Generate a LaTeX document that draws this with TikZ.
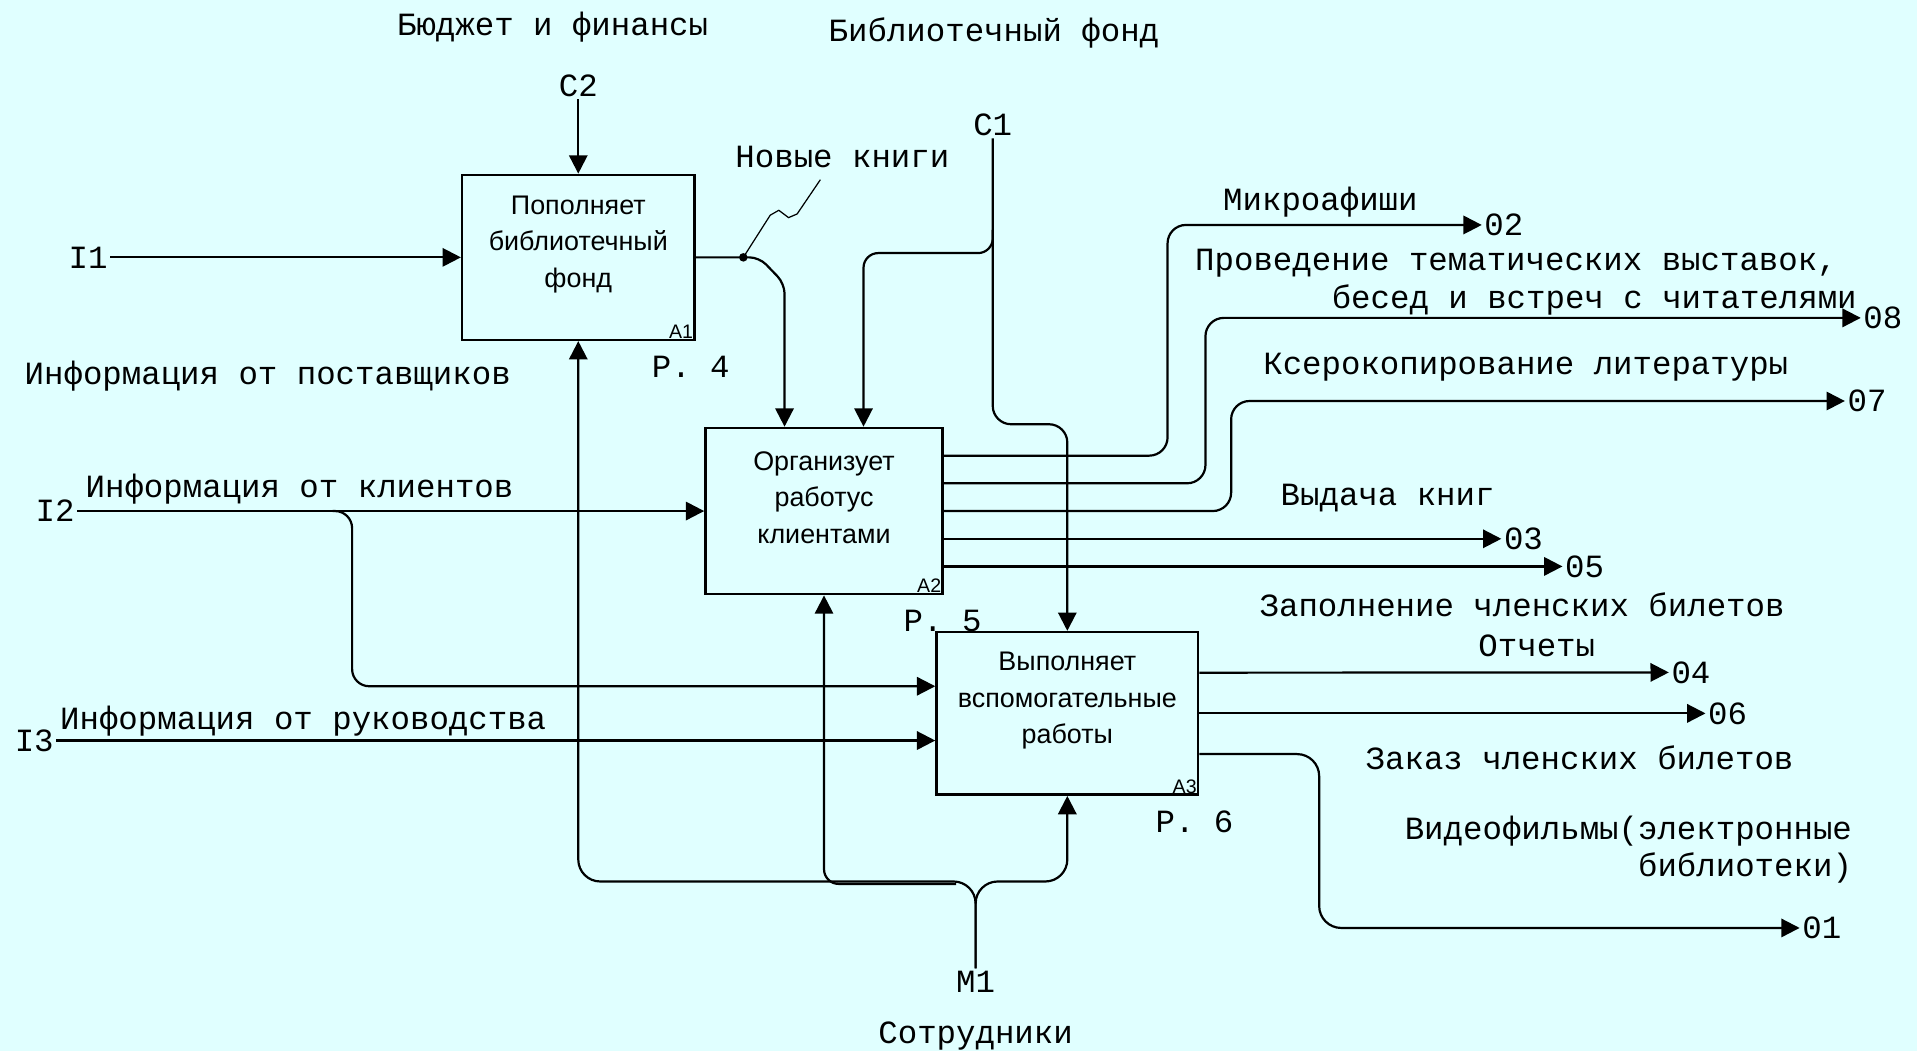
\documentclass[tikz,border=0pt]{standalone}
\usepackage{fontspec}
\setmainfont{Liberation Sans}
\newfontfamily\idefmono{Liberation Mono}
\usepackage{tikz}
\usetikzlibrary{arrows, arrows.meta, positioning}
\definecolor{bgcyan}{RGB}{224,255,255}

\begin{document}
\begin{tikzpicture}[x=1pt, y=-1pt,
    func/.style={shape=rectangle, draw=black, line width=2pt, inner sep=0pt},
    functext/.style={align=center, font=\fontsize{22}{30}\selectfont},
    corner/.style={anchor=south east, inner sep=2pt, font=\fontsize{16}{16}\selectfont},
    lbl/.style={inner sep=2pt, font=\idefmono\fontsize{26.5}{30}\selectfont},
    arr/.style={line width=1.8pt, -{Triangle[length=15pt,width=15pt]}}]
  \fill[bgcyan] (0,0) rectangle (1568,860);
  \useasboundingbox (0,0) rectangle (1568,860);

  \node[func, minimum width=190pt, minimum height=135pt, label={[corner]south east:A1}] (A1) at (473,210.5) {};
  \node[functext] (A1text) at (473,200) {Пополняет\\библиотечный\\фонд};
  \node[func, minimum width=194pt, minimum height=136pt, label={[corner]south east:A2}] (A2) at (674,418) {};
  \node[functext] (A2text) at (674,407) {Организует\\работус\\клиентами};
  \node[func, minimum width=214pt, minimum height=133pt, label={[corner]south east:A3}] (A3) at (873,583.5) {};
  \node[functext] (A3text) at (873,573) {Выполняет\\вспомогательные\\работы};

  \node[lbl] (bud) at (452,22) {Бюджет и финансы};
  \node[lbl] (fond) at (813,27) {Библиотечный фонд};
  \node[lbl] (C2) at (473,70) {C2};
  \node[lbl] (C1) at (812,102) {C1};
  \node[lbl] (NK) at (689,128) {Новые книги};
  \node[lbl] (I1) at (72,210.5) {I1};
  \node[lbl] (post) at (219,308) {Информация от поставщиков};
  \node[lbl] (P4) at (565,300) {P. 4};
  \node[lbl] (I2) at (45,418) {I2};
  \node[lbl] (clients) at (245,400) {Информация от клиентов};
  \node[lbl] (P5) at (771,508) {P. 5};
  \node[lbl] (I3) at (28,605.7) {I3};
  \node[lbl] (mgmt) at (248,590) {Информация от руководства};
  \node[lbl] (P6) at (977,672) {P. 6};
  \node[lbl] (M1) at (798,803) {M1};
  \node[lbl] (staff) at (798,847) {Сотрудники};

  \node[lbl] (micro) at (1080,165) {Микроафиши};
  \node[lbl] (exhA) at (1240,215) {Проведение тематических выставок,};
  \node[lbl] (exhB) at (1304,245) {бесед и встреч с читателями};
  \node[lbl] (xero) at (1248,300) {Ксерокопирование литературы};
  \node[lbl] (issue) at (1135,407) {Выдача книг};
  \node[lbl] (fill) at (1245,495) {Заполнение членских билетов};
  \node[lbl] (rep) at (1257,528) {Отчеты};
  \node[lbl] (order) at (1292,620) {Заказ членских билетов};
  \node[lbl, align=right, anchor=east] (video) at (1517,695) {Видеофильмы(электронные\\библиотеки)};

  \node[lbl, anchor=west] (O2) at (1212,184) {02};
  \node[lbl, anchor=west] (O8) at (1522,260) {08};
  \node[lbl, anchor=west] (O7) at (1509,328) {07};
  \node[lbl, anchor=west] (O3) at (1228,440.7) {03};
  \node[lbl, anchor=west] (O5) at (1278,463.3) {05};
  \node[lbl, anchor=west] (O4) at (1365,550) {04};
  \node[lbl, anchor=west] (O6) at (1395,583.5) {06};
  \node[lbl, anchor=west] (O1) at (1472,759) {01};

  \coordinate (NKdot) at (608,210.5);
  \coordinate (NKend) at (671,147);
  \coordinate (C1s) at (812,188);
  \coordinate (I2s) at (272,418);
  \coordinate (M1s) at (798,721);
  \coordinate (M1a) at (782,723);

  \draw[arr] (C2) -- (A1.north);
  \draw[arr] (I1) -- (A1.west);
  \draw[arr] (I2) -- (A2.west);
  \draw[arr] (I3) -- ([yshift=-22.2pt]A3.west);
  \draw[arr, rounded corners=14pt] (I2s) -- (288,418) |- ([yshift=22.2pt]A3.west);

  \draw[arr, rounded corners=8pt] (A1.east) -- (621,210.5) -- (641.7,232) -- ([xshift=-32.3pt]A2.north);
  \fill (NKdot) circle (3.5pt);
  \draw[line width=1pt] (NKdot) -- (630,176) -- (637,172) -- (645,178) -- (652,175) -- (NKend);

  \draw[arr, rounded corners=15pt] (C1) -- (812,347) -| (A3.north);
  \draw[arr, rounded corners=12pt] (C1s) -- (812,207) -| ([xshift=32.3pt]A2.north);

  \draw[arr, rounded corners=15pt] ([yshift=45.3pt]A2.east) -| (955,220) |- (O2.west);
  \draw[arr, rounded corners=15pt] ([yshift=22.7pt]A2.east) -| (986,300) |- (O8.west);
  \draw[arr, rounded corners=15pt] (A2.east) -| (1007,380) |- (O7.west);
  \draw[arr] ([yshift=-22.7pt]A2.east) -- (O3.west);
  \draw[arr] ([yshift=-45.3pt]A2.east) -- (O5.west);

  \draw[arr] ([yshift=33.3pt]A3.east) -- (O4.west);
  \draw[arr] (A3.east) -- (O6.west);
  \draw[arr, rounded corners=18pt] ([yshift=-33.3pt]A3.east) -| (1079,700) |- (O1.west);

  \draw[arr, rounded corners=18pt] (M1) -- (M1s) -| (A1.south);
  \draw[arr, rounded corners=18pt] (M1) -- (M1s) -| (A3.south);
  \draw[arr, rounded corners=12pt] (M1a) -| (A2.south);
\end{tikzpicture}
\end{document}
